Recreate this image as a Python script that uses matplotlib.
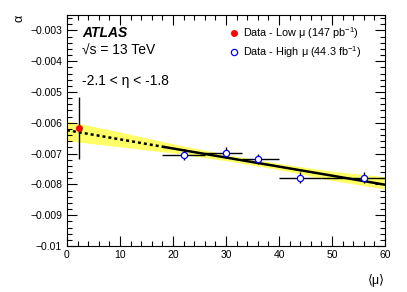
import matplotlib
matplotlib.use('Agg')
import matplotlib.pyplot as plt
from matplotlib.lines import Line2D
from matplotlib.ticker import MultipleLocator, FuncFormatter

plt.rcParams['font.family'] = ['Liberation Sans', 'DejaVu Sans']
plt.rcParams['mathtext.fontset'] = 'custom'
plt.rcParams['mathtext.rm'] = 'Liberation Sans'

# low mu point
low_x = [2.2]
low_y = [-0.00617]
low_yerr = [0.001]

# high mu points
high_x = [22, 30, 36, 44, 56]
high_y = [-0.00703, -0.00697, -0.00718, -0.00778, -0.00778]
high_yerr = [0.00017, 0.00017, 0.00017, 0.00017, 0.00017]
high_xlo = [4, 4, 3, 4, 8]
high_xhi = [4, 3, 4, 4, 4]

# linear fit and its uncertainty band
fit_dash_x = [0, 18.5]
fit_dash_y = [-0.00624, -0.00679]
fit_solid_x = [18.5, 60]
fit_solid_y = [-0.00679, -0.00801]
band_x = [0, 10, 20, 30, 40, 50, 60]
band_lo = [-0.00658, -0.00678, -0.00698, -0.00723, -0.00752, -0.00787, -0.00815]
band_hi = [-0.00594, -0.00630, -0.00668, -0.00703, -0.00732, -0.00757, -0.00775]

fig = plt.figure(figsize=(4.07, 2.92), dpi=100)
ax = fig.add_axes([67/407, 1-246/292, 318/407, 231/292])

ax.fill_between(band_x, band_lo, band_hi, color='#ffff66', lw=0, zorder=1)
ax.plot(fit_dash_x, fit_dash_y, color='black', lw=1.8, ls=(0, (1.2, 1.2)), zorder=2)
ax.plot(fit_solid_x, fit_solid_y, color='black', lw=1.8, zorder=2)

ax.errorbar(low_x, low_y, yerr=low_yerr, fmt='o', color='red', ecolor='black',
            elinewidth=1, ms=4, capsize=0, zorder=4)
ax.errorbar(high_x, high_y, yerr=high_yerr, xerr=[high_xlo, high_xhi], fmt='o',
            mfc='white', mec='blue', mew=0.9, ecolor='black', elinewidth=1,
            ms=4.5, capsize=0, zorder=4)

ax.set_xlim(0, 60)
ax.set_ylim(-0.01, -0.0025)
ax.xaxis.set_major_locator(MultipleLocator(10))
ax.xaxis.set_minor_locator(MultipleLocator(2))
ax.yaxis.set_major_locator(MultipleLocator(0.001))
ax.yaxis.set_minor_locator(MultipleLocator(0.0002))
ax.yaxis.set_major_formatter(FuncFormatter(lambda v, p: ('%g' % round(v, 6)).replace('-', '\u2212')))
ax.tick_params(which='both', direction='in', top=True, right=True, labelsize=7.5)
ax.tick_params(which='major', length=7, width=0.8)
ax.tick_params(which='minor', length=3.5, width=0.8)
ax.tick_params(axis='x', pad=3)

ax.set_xlabel('\u27e8\u03bc\u27e9', fontsize=9, loc='right')
ax.xaxis.set_label_coords(1.0, -0.12)
ax.set_ylabel('\u03b1', fontsize=9, loc='top')
ax.yaxis.set_label_coords(-0.13, 1.0)

ax.text(0.047, 0.92, 'ATLAS', transform=ax.transAxes, fontsize=10,
        fontweight='bold', fontstyle='italic', va='center')
ax.text(0.047, 0.845, '\u221as = 13 TeV', transform=ax.transAxes, fontsize=10, va='center')
ax.text(0.047, 0.715, '-2.1 < \u03b7 < -1.8', transform=ax.transAxes, fontsize=10, va='center')

handles = [Line2D([], [], ls='', marker='o', color='red', ms=4),
           Line2D([], [], ls='', marker='o', mfc='white', mec='blue', ms=4.5, mew=0.9)]
labels = ['Data - Low \u03bc (147 pb$^{-1}$)', 'Data - High \u03bc (44.3 fb$^{-1}$)']
ax.legend(handles, labels, loc='upper left', bbox_to_anchor=(0.49, 0.975), frameon=False,
          fontsize=7.8, handletextpad=0.3, handlelength=1.2, labelspacing=0.3,
          borderaxespad=0)

fig.savefig('out.png', dpi=100)
